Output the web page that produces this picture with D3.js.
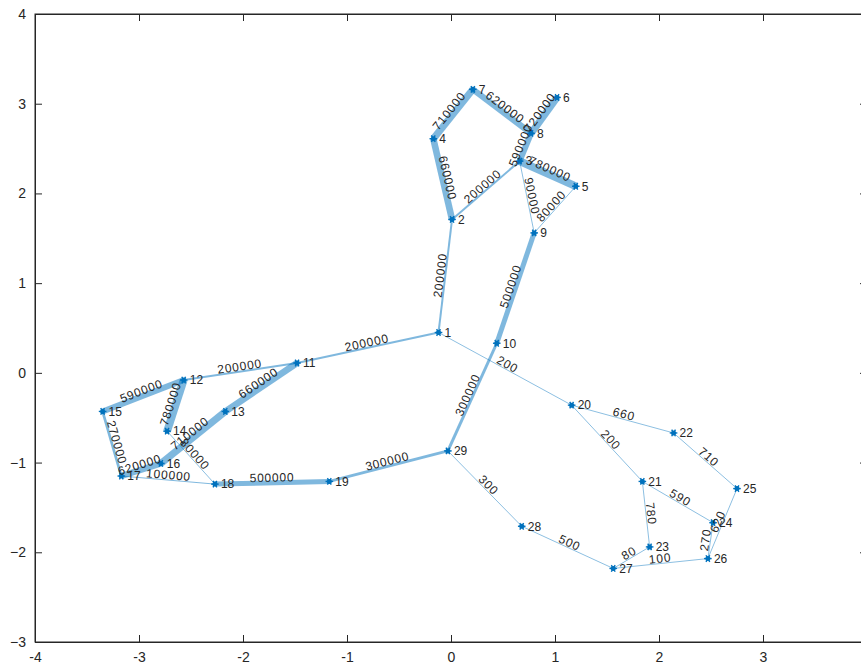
<!DOCTYPE html>
<html>
<head>
<meta charset="utf-8">
<script src="https://cdn.jsdelivr.net/npm/d3@7"></script>
<style>
  html, body { margin: 0; padding: 0; background: #fff; }
  svg { display: block; }
  text { font-family: Arial, "Liberation Sans", Helvetica, sans-serif; }
</style>
</head>
<body>
<svg id="chart" width="861" height="670"></svg>
<script>
// ---- data ----
const nodeIds = [1,2,3,4,5,6,7,8,9,10,11,12,13,14,15,16,17,18,19,20,21,22,23,24,25,26,27,28,29];
const nodeX = [-0.12,0.01,0.66,-0.17,1.20,1.02,0.21,0.77,0.80,0.44,-1.48,-2.57,-2.17,-2.73,-3.35,-2.79,-3.17,-2.27,-1.17,1.16,1.84,2.14,1.91,2.52,2.75,2.47,1.56,0.68,-0.03];
const nodeY = [0.45,1.71,2.36,2.61,2.08,3.07,3.16,2.67,1.56,0.33,0.11,-0.08,-0.43,-0.65,-0.43,-1.01,-1.15,-1.24,-1.21,-0.36,-1.21,-0.67,-1.94,-1.67,-1.29,-2.07,-2.18,-1.71,-0.87];
const edgeSource = [1,1,1,2,2,4,7,6,3,3,3,5,9,10,29,19,11,11,12,12,13,15,16,14,17,29,28,27,27,23,21,20,22,21,24,25];
const edgeTarget = [2,11,20,3,4,7,8,8,8,5,9,9,10,29,19,18,12,13,15,14,16,17,17,18,18,28,27,23,26,21,20,22,25,24,26,26];
const edgeWeight = [200000,200000,200,200000,660000,710000,620000,720000,590000,780000,90000,80000,500000,300000,300000,500000,200000,660000,590000,780000,710000,270000,620000,80000,100000,300,500,80,100,780,200,660,710,590,270,620];
const xTicks = [-4,-3,-2,-1,0,1,2,3,4];
const xTickLabels = ["-4","-3","-2","-1","0","1","2","3",""];
const yTicks = [-3,-2,-1,0,1,2,3,4];

// ---- layout ----
const svg = d3.select("#chart");
const padL = 35, padR = 867, padT = 14, padB = 642;
const x = d3.scaleLinear().domain([-4, 4]).range([padL, padR]);
const y = d3.scaleLinear().domain([-3, 4]).range([padB, padT]);
const axisColor = "#262626";

// box
svg.append("rect").attr("x", padL).attr("y", padT)
  .attr("width", padR - padL).attr("height", padB - padT)
  .attr("fill", "none").attr("stroke", axisColor).attr("stroke-width", 1);

// axes (ticks inward)
const tickLen = 7;
const gx = svg.append("g").attr("transform", `translate(0,${padB})`)
  .call(d3.axisBottom(x).tickValues(xTicks).tickSizeInner(-tickLen).tickSizeOuter(0).tickPadding(10)
    .tickFormat((d, i) => xTickLabels[i]));
const gxTop = svg.append("g").attr("transform", `translate(0,${padT})`)
  .call(d3.axisTop(x).tickValues(xTicks).tickSizeInner(-tickLen).tickSizeOuter(0).tickFormat(""));
const gy = svg.append("g").attr("transform", `translate(${padL},0)`)
  .call(d3.axisLeft(y).tickValues(yTicks).tickSizeInner(-tickLen).tickSizeOuter(0).tickPadding(9).tickFormat(d3.format("d")));
const gyR = svg.append("g").attr("transform", `translate(${padR},0)`)
  .call(d3.axisRight(y).tickValues(yTicks).tickSizeInner(-tickLen).tickSizeOuter(0).tickFormat(""));
[gx, gxTop, gy, gyR].forEach(g => {
  g.select(".domain").attr("stroke", axisColor);
  g.selectAll(".tick line").attr("stroke", axisColor);
  g.selectAll(".tick text").attr("fill", axisColor).style("font-size", "14px");
});

// ---- graph ----
const nodes = nodeIds.map((id, i) => ({ id, x: nodeX[i], y: nodeY[i] }));
const byId = new Map(nodes.map(n => [n.id, n]));
const edges = edgeSource.map((s, i) => ({ s: byId.get(s), t: byId.get(edgeTarget[i]), w: edgeWeight[i] }));
const widthScale = d3.scaleLinear().domain([0, 100000]).range([0, 1]);

const gEdges = svg.append("g");
gEdges.selectAll("line").data(edges).join("line")
  .attr("x1", d => x(d.s.x)).attr("y1", d => y(d.s.y))
  .attr("x2", d => x(d.t.x)).attr("y2", d => y(d.t.y))
  .attr("stroke", "rgb(0,114,189)").attr("stroke-opacity", 0.5)
  .attr("stroke-width", d => Math.max(0.9, widthScale(d.w)));

// nodes (asterisk-like markers)
const gNodes = svg.append("g");
const node = gNodes.selectAll("g").data(nodes).join("g")
  .attr("transform", d => `translate(${x(d.x)},${y(d.y)})`);
node.append("circle").attr("r", 2.5).attr("fill", "#0072BD");
[0, 60, 120].forEach(a => {
  node.append("line")
    .attr("x1", -3.8).attr("x2", 3.8).attr("y1", 0).attr("y2", 0)
    .attr("transform", `rotate(${a})`)
    .attr("stroke", "#0072BD").attr("stroke-width", 1.4);
});
node.append("text").attr("x", 6).attr("dy", "0.36em")
  .style("font-size", "12px").attr("fill", "#262626")
  .text(d => d.id);

// edge labels, rotated along the edge
const gLabels = svg.append("g");
gLabels.selectAll("text").data(edges).join("text")
  .attr("transform", d => {
    const x1 = x(d.s.x), y1 = y(d.s.y), x2 = x(d.t.x), y2 = y(d.t.y);
    const mx = (x1 + x2) / 2, my = (y1 + y2) / 2;
    const ang = Math.atan((y2 - y1) / (x2 - x1)) * 180 / Math.PI;
    return `translate(${mx},${my}) rotate(${ang})`;
  })
  .attr("text-anchor", "middle").attr("dy", "-1")
  .style("font-size", "12px").style("letter-spacing", "0.8px")
  .attr("fill", "#262626")
  .text(d => d.w);
</script>
</body>
</html>
